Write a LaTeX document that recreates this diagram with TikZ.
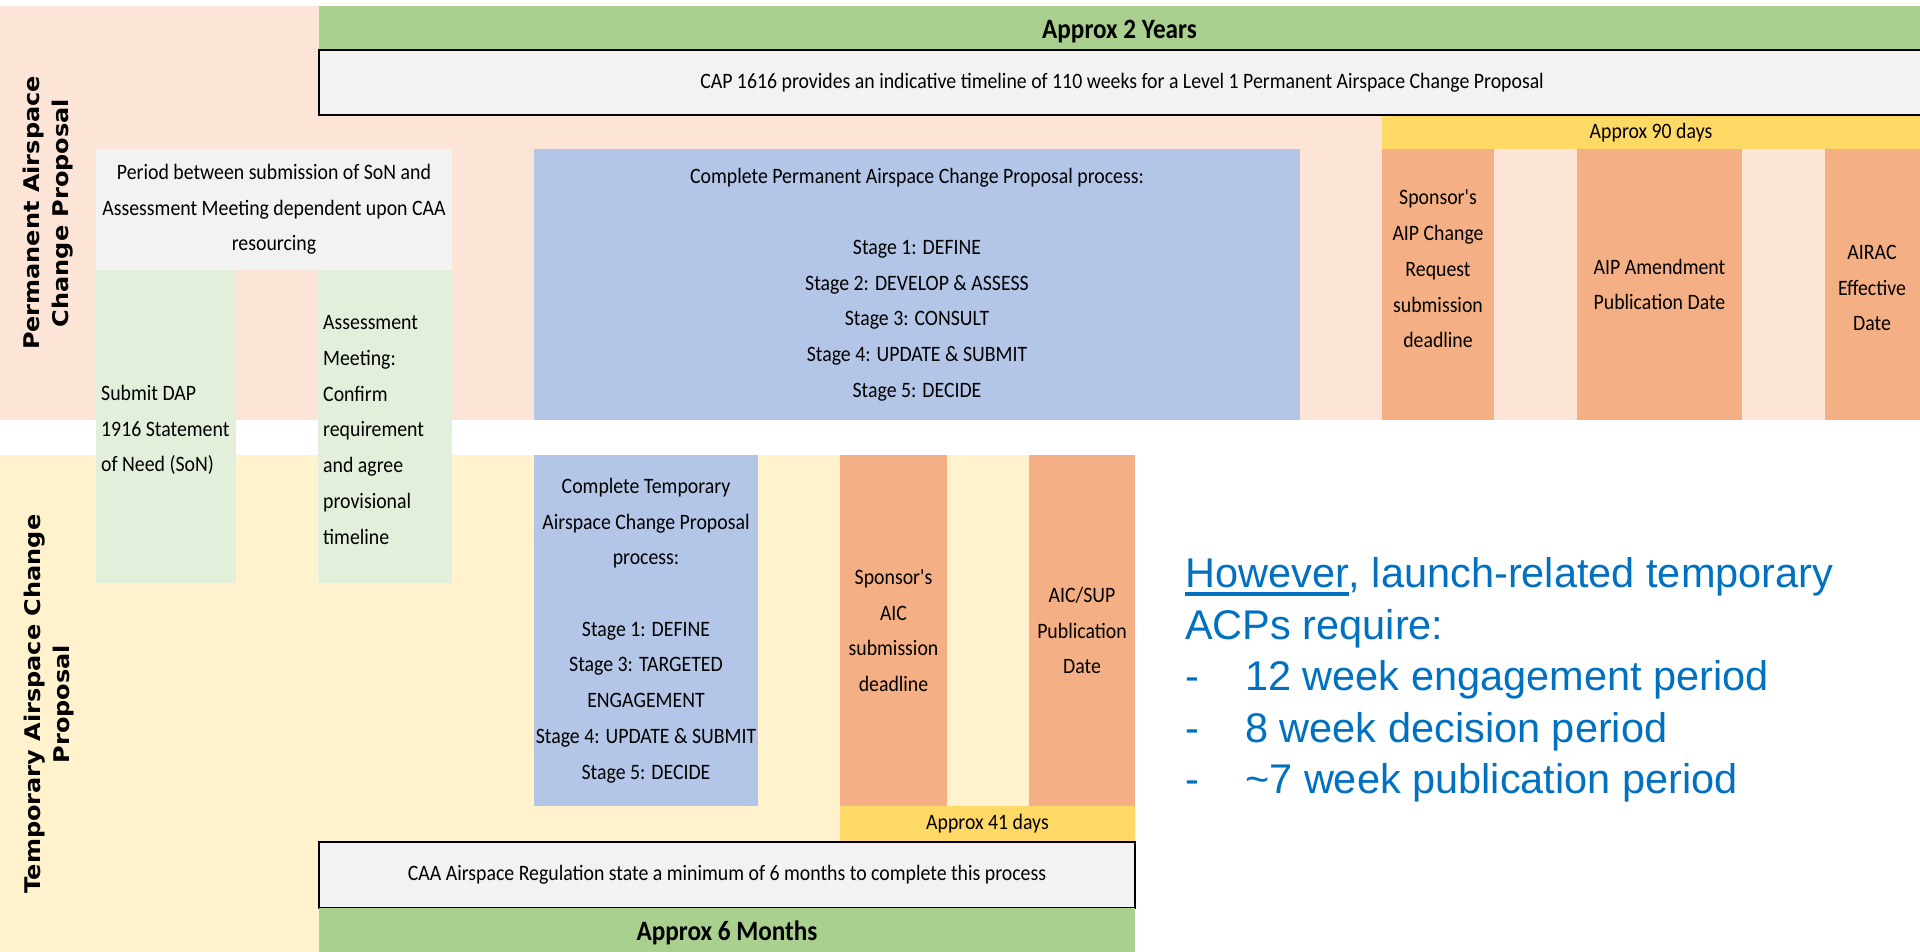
\documentclass[tikz,border=0pt]{standalone}
\usepackage{fontspec}
\usepackage{graphicx}
\newfontfamily\tblfont{Carlito}[FakeStretch=0.9]
\newfontfamily\lblfont{DejaVu Sans}
\newfontfamily\arialfont{Liberation Sans}
\definecolor{pinkbg}{HTML}{FCE4D6}
\definecolor{yellowbg}{HTML}{FFF2CC}
\definecolor{greenbar}{HTML}{A9D08E}
\definecolor{greenlt}{HTML}{E2EFDA}
\definecolor{graybox}{HTML}{F2F2F2}
\definecolor{bluebox}{HTML}{B4C6E7}
\definecolor{orangebox}{HTML}{F4B084}
\definecolor{yellowbar}{HTML}{FFD966}
\definecolor{acpblue}{HTML}{0070C0}
\newcommand\myul[1]{\setbox0\hbox{#1}\rlap{\rule[-8pt]{\wd0}{3.5pt}}\box0}
\begin{document}
\begin{tikzpicture}[x=1pt,y=-1pt,
  cell/.style={inner sep=0pt, outer sep=0pt, draw=none, anchor=north west},
  txt/.style={font=\tblfont\fontsize{22}{35.7}\selectfont, align=center, text=black},
  bold/.style={font=\tblfont\bfseries\fontsize{28}{33}\selectfont, align=center, text=black},
  framed/.style={draw=black, line width=2.5pt},
  sidelabel/.style={inner sep=0pt, outer sep=0pt}]
\useasboundingbox (0,0) rectangle (1920,952);
% backgrounds
\node[cell, fill=pinkbg, minimum width=1920pt, minimum height=414pt] (permbg) at (0,6) {};
\node[cell, fill=yellowbg, minimum width=1135pt, minimum height=497pt] (tempbg) at (0,455) {};
% top bars
\node[cell, fill=greenbar, minimum width=1601pt, minimum height=44pt] (years) at (319,6) {};
\node[bold, inner sep=0pt, yshift=-4pt] (yearstxt) at (years.center) {Approx 2 Years};
\node[cell, txt, framed, fill=graybox, minimum width=1606pt, minimum height=65pt] (cap) at (319,50) {CAP 1616 provides an indicative timeline of 110 weeks for a Level 1 Permanent Airspace Change Proposal};
% side labels
\node[sidelabel] (plabel) at (48,213) {\scalebox{0.9}[1]{\rotatebox{90}{\lblfont\bfseries\fontsize{24}{33}\selectfont\begin{tabular}{@{}c@{}}Permanent Airspace\\Change Proposal\end{tabular}}}};
\node[sidelabel] (tlabel) at (49,704) {\scalebox{0.9}[1]{\rotatebox{90}{\lblfont\bfseries\fontsize{24}{33}\selectfont\begin{tabular}{@{}c@{}}Temporary Airspace Change\\Proposal\end{tabular}}}};
% permanent row
\node[cell, txt, fill=graybox, minimum width=356pt, minimum height=121pt] (period) at (96,149) {Period between submission of SoN and\\Assessment Meeting dependent upon CAA\\resourcing};
\node[cell, fill=greenlt, minimum width=140pt, minimum height=313pt] (submit) at (96,270) {};
\node[cell, fill=greenlt, minimum width=134pt, minimum height=313pt] (assess) at (318,270) {};
\node[txt, align=left, anchor=west, inner sep=0pt] (submittxt) at (101,430) {Submit DAP\\1916 Statement\\of Need (SoN)};
\node[txt, align=left, anchor=west, inner sep=0pt] (assesstxt) at (323,430) {Assessment\\Meeting:\\Confirm\\requirement\\and agree\\provisional\\timeline};
\node[cell, txt, fill=bluebox, minimum width=766pt, minimum height=271pt] (pblue) at (534,149) {Complete Permanent Airspace Change Proposal process:\\[35.7pt]Stage 1: DEFINE\\Stage 2: DEVELOP \& ASSESS\\Stage 3: CONSULT\\Stage 4: UPDATE \& SUBMIT\\Stage 5: DECIDE};
\node[cell, txt, fill=yellowbar, minimum width=538pt, minimum height=33pt] (days90) at (1382,116) {Approx 90 days};
\node[cell, fill=orangebox, minimum width=112pt, minimum height=271pt] (aipreq) at (1382,149) {};
\node[txt, inner sep=0pt] (aipreqtxt) at (1438,269) {Sponsor's\\AIP Change\\Request\\submission\\deadline};
\node[cell, txt, fill=orangebox, minimum width=165pt, minimum height=271pt] (aipamd) at (1577,149) {AIP Amendment\\Publication Date};
\node[cell, fill=orangebox, minimum width=95pt, minimum height=271pt] (airac) at (1825,149) {};
\node[txt, inner sep=0pt] (airactxt) at (1872,288) {AIRAC\\Effective\\Date};
% temporary row
\node[cell, txt, fill=bluebox, minimum width=224pt, minimum height=351pt] (tblue) at (534,455) {Complete Temporary\\Airspace Change Proposal\\process:\\[35.7pt]Stage 1: DEFINE\\Stage 3: TARGETED\\ENGAGEMENT\\Stage 4: UPDATE \& SUBMIT\\Stage 5: DECIDE};
\node[cell, txt, fill=orangebox, minimum width=107pt, minimum height=351pt] (aicsub) at (840,455) {Sponsor's\\AIC\\submission\\deadline};
\node[cell, txt, fill=orangebox, minimum width=106pt, minimum height=351pt] (aicpub) at (1029,455) {AIC/SUP\\Publication\\Date};
\node[cell, txt, fill=yellowbar, minimum width=295pt, minimum height=36pt] (days41) at (840,806) {Approx 41 days};
\node[cell, txt, framed, fill=graybox, minimum width=816pt, minimum height=66pt] (caa) at (319,842) {CAA Airspace Regulation state a minimum of 6 months to complete this process};
\node[cell, fill=greenbar, minimum width=816pt, minimum height=44pt] (months) at (319,908) {};
\node[bold, inner sep=0pt, yshift=-3pt] (monthstxt) at (months.center) {Approx 6 Months};
% note
\node[font=\arialfont\fontsize{41.5}{51.5}\selectfont, text=acpblue, align=left, anchor=west, inner sep=0pt] (note) at (1185,680) {\myul{However}, launch-related temporary\\ACPs require:\\\makebox[60pt][l]{-}12 week engagement period\\\makebox[60pt][l]{-}8 week decision period\\\makebox[60pt][l]{-}\textasciitilde 7 week publication period};
\end{tikzpicture}
\end{document}
